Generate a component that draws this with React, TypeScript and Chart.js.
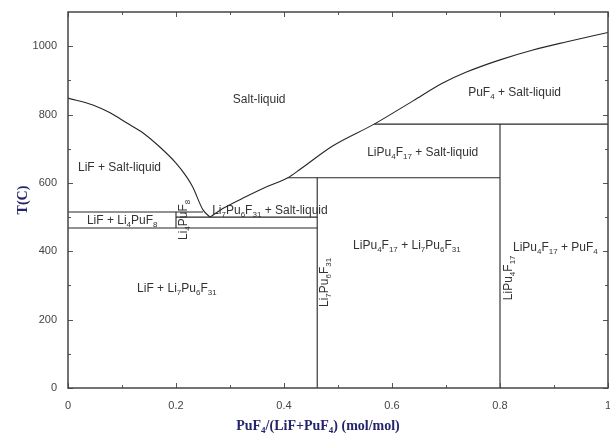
import React, { useEffect, useRef } from 'react';
import { Chart, registerables } from 'chart.js';
Chart.register(...registerables);

// ---- data (composition x = PuF4/(LiF+PuF4), temperature T in C) ----
const leftLiquidusX = [0, 0.046, 0.078, 0.109, 0.139, 0.17, 0.2, 0.22, 0.231, 0.25, 0.263];
const leftLiquidusT = [848, 828, 805, 775, 746, 705, 658, 617, 588, 521, 500];
const rightLiquidusX = [0.263, 0.29, 0.33, 0.37, 0.407, 0.43, 0.49, 0.567, 0.639, 0.694, 0.739, 0.8, 0.861, 0.924, 1.0];
const rightLiquidusT = [500, 528, 560, 590, 615, 640, 708, 772, 840, 892, 925, 960, 989, 1013, 1040];

// invariant (horizontal) lines: [xStart, xEnd, T]
const invariantXStart = [0, 0.2, 0, 0.407, 0.567];
const invariantXEnd = [0.25, 0.4615, 0.4615, 0.8, 1.0];
const invariantT = [515, 500, 468, 615, 772];

// compound (vertical) lines: [x, Tbottom, Ttop]
const compoundX = [0.2, 0.4615, 0.8];
const compoundTBottom = [468, 0, 0];
const compoundTTop = [515, 615, 772];

const xTickValues = [0, 0.2, 0.4, 0.6, 0.8, 1];
const xTickLabels = ['0', '0.2', '0.4', '0.6', '0.8', '1'];
const xMinorTicks = [0.1, 0.3, 0.5, 0.7, 0.9];
const yTickValues = [0, 200, 400, 600, 800, 1000];
const yTickLabels = ['0', '200', '400', '600', '800', '1000'];
const yMinorTicks = [100, 300, 500, 700, 900];

const regionTexts = [
  'Salt-liquid',
  'PuF_4 + Salt-liquid',
  'LiF + Salt-liquid',
  'LiPu_4F_17 + Salt-liquid',
  'Li_7Pu_6F_31 + Salt-liquid',
  'LiF + Li_4PuF_8',
  'LiPu_4F_17 + Li_7Pu_6F_31',
  'LiPu_4F_17 + PuF_4',
  'LiF + Li_7Pu_6F_31',
];
const regionAnchorX = [0.354, 0.741, 0.0185, 0.554, 0.267, 0.035, 0.528, 0.824, 0.128];
const regionAnchorT = [834, 854, 635, 679, 509, 480, 407, 401, 281];
const regionAlign = ['center', 'left', 'left', 'left', 'left', 'left', 'left', 'left', 'left'];

const compoundTexts = ['Li_4PuF_8', 'Li_7Pu_6F_31', 'LiPu_4F_17'];
const compoundAnchorX = [0.22, 0.4815, 0.822];
const compoundAnchorT = [433, 237, 257];

const xTitle = 'PuF_4/(LiF+PuF_4) (mol/mol)';
const yTitle = 'T(C)';

const LINE = '#262626';
const TEXT = '#333333';
const TITLE = '#24246a';

function parseRich(text: string) {
  const segs: { t: string; sub: boolean }[] = [];
  const re = /_(\d+)/g;
  let last = 0;
  let m: RegExpExecArray | null;
  while ((m = re.exec(text))) {
    if (m.index > last) segs.push({ t: text.slice(last, m.index), sub: false });
    segs.push({ t: m[1], sub: true });
    last = m.index + m[0].length;
  }
  if (last < text.length) segs.push({ t: text.slice(last), sub: false });
  return segs;
}

function drawRich(ctx: CanvasRenderingContext2D, text: string, x: number, y: number, font: string, subFont: string, align: string, subDy: number) {
  const segs = parseRich(text);
  let w = 0;
  for (const s of segs) {
    ctx.font = s.sub ? subFont : font;
    w += ctx.measureText(s.t).width;
  }
  let cx = align === 'center' ? x - w / 2 : x;
  ctx.textAlign = 'left';
  ctx.textBaseline = 'alphabetic';
  for (const s of segs) {
    ctx.font = s.sub ? subFont : font;
    ctx.fillText(s.t, cx, s.sub ? y + subDy : y);
    cx += ctx.measureText(s.t).width;
  }
}

const decorPlugin = {
  id: 'decor',
  afterDraw(chart: any) {
    const ctx: CanvasRenderingContext2D = chart.ctx;
    const xs = chart.scales.x;
    const ys = chart.scales.y;
    const a = chart.chartArea;
    ctx.save();
    // ticks (inward, all four sides)
    ctx.strokeStyle = '#555';
    ctx.lineWidth = 1;
    ctx.beginPath();
    const xt = (v: number, len: number) => {
      const p = Math.round(xs.getPixelForValue(v)) + 0.5;
      ctx.moveTo(p, a.bottom); ctx.lineTo(p, a.bottom - len);
      ctx.moveTo(p, a.top); ctx.lineTo(p, a.top + len);
    };
    const yt = (v: number, len: number) => {
      const p = Math.round(ys.getPixelForValue(v)) + 0.5;
      ctx.moveTo(a.left, p); ctx.lineTo(a.left + len, p);
      ctx.moveTo(a.right, p); ctx.lineTo(a.right - len, p);
    };
    xTickValues.forEach(v => xt(v, 5));
    xMinorTicks.forEach(v => xt(v, 3));
    yTickValues.forEach(v => yt(v, 5));
    yMinorTicks.forEach(v => yt(v, 3));
    ctx.stroke();
    // box
    ctx.strokeStyle = '#444';
    ctx.lineWidth = 1.5;
    ctx.strokeRect(a.left, a.top, a.right - a.left, a.bottom - a.top);

    // region labels
    ctx.fillStyle = TEXT;
    const f = '12px "Liberation Sans", Arial, sans-serif';
    const sf = '8px "Liberation Sans", Arial, sans-serif';
    regionTexts.forEach((t, i) => {
      drawRich(ctx, t, xs.getPixelForValue(regionAnchorX[i]), ys.getPixelForValue(regionAnchorT[i]), f, sf, regionAlign[i], 3);
    });
    compoundTexts.forEach((t, i) => {
      ctx.save();
      ctx.translate(xs.getPixelForValue(compoundAnchorX[i]), ys.getPixelForValue(compoundAnchorT[i]));
      ctx.rotate(-Math.PI / 2);
      drawRich(ctx, t, 0, 0, f, sf, 'left', 3);
      ctx.restore();
    });

    // axis titles
    ctx.fillStyle = TITLE;
    const tf = 'bold 14px "Liberation Serif", "Times New Roman", serif';
    const tsf = 'bold 9px "Liberation Serif", "Times New Roman", serif';
    drawRich(ctx, xTitle, 318, 430, tf, tsf, 'center', 3);
    ctx.save();
    ctx.translate(27, 200);
    ctx.rotate(-Math.PI / 2);
    drawRich(ctx, yTitle, 0, 0, tf, tsf, 'center', 3);
    ctx.restore();
    ctx.restore();
  },
};

export default function App() {
  const ref = useRef<HTMLCanvasElement | null>(null);
  useEffect(() => {
    document.body.style.margin = '0';
    const datasets: any[] = [];
    const base = { showLine: true, pointRadius: 0, borderColor: LINE, borderWidth: 1.1, fill: false };
    datasets.push({ ...base, cubicInterpolationMode: 'monotone', data: leftLiquidusX.map((x, i) => ({ x, y: leftLiquidusT[i] })) });
    datasets.push({ ...base, cubicInterpolationMode: 'monotone', data: rightLiquidusX.map((x, i) => ({ x, y: rightLiquidusT[i] })) });
    invariantT.forEach((t, i) => {
      datasets.push({ ...base, data: [{ x: invariantXStart[i], y: t }, { x: invariantXEnd[i], y: t }] });
    });
    compoundX.forEach((x, i) => {
      datasets.push({ ...base, data: [{ x, y: compoundTBottom[i] }, { x, y: compoundTTop[i] }] });
    });
    const chart = new Chart(ref.current as HTMLCanvasElement, {
      type: 'scatter',
      data: { datasets },
      options: {
        animation: false,
        responsive: false,
        layout: { padding: { top: 12, right: 2, left: 0, bottom: 0 } },
        plugins: { legend: { display: false }, tooltip: { enabled: false } },
        scales: {
          x: {
            type: 'linear', min: 0, max: 1,
            grid: { display: false, drawTicks: false },
            border: { display: false },
            afterFit: (s: any) => { s.height = 48; s.paddingLeft = 0; s.paddingRight = 0; },
            afterBuildTicks: (s: any) => { s.ticks = xTickValues.map(v => ({ value: v })); },
            ticks: {
              padding: 11, maxRotation: 0, autoSkip: false,
              color: '#444', font: { family: '"Liberation Sans", Arial, sans-serif', size: 11 },
              callback: (v: any) => { const i = xTickValues.indexOf(Number(v)); return i >= 0 ? xTickLabels[i] : ''; },
            },
          },
          y: {
            type: 'linear', min: 0, max: 1100,
            grid: { display: false, drawTicks: false },
            border: { display: false },
            afterFit: (s: any) => { s.width = 68; s.paddingTop = 0; s.paddingBottom = 0; },
            afterBuildTicks: (s: any) => { s.ticks = yTickValues.map(v => ({ value: v })); },
            ticks: {
              padding: 11, autoSkip: false,
              color: '#444', font: { family: '"Liberation Sans", Arial, sans-serif', size: 11 },
              callback: (v: any) => { const i = yTickValues.indexOf(Number(v)); return i >= 0 ? yTickLabels[i] : ''; },
            },
          },
        },
      },
      plugins: [decorPlugin],
    } as any);
    return () => chart.destroy();
  }, []);
  return (
    <div style={{ width: 610, height: 436 }}>
      <canvas ref={ref} width={610} height={436} />
    </div>
  );
}
